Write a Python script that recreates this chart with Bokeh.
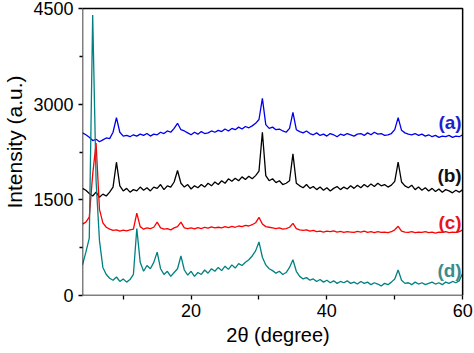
import numpy as np
from bokeh.plotting import figure
from bokeh.models import Range1d, FixedTicker, Label, BoxAnnotation
from bokeh.embed import file_html
from bokeh.resources import INLINE

# 2-theta sampling grid (degrees)
two_theta = np.arange(4.0, 60.01, 0.5)

# (a) blue
series_a = [
    2550, 2520, 2480, 2430, 2450, 2410, 2440, 2470, 2460, 2560,
    2790, 2560, 2500, 2510, 2490, 2520, 2500, 2530, 2510, 2540,
    2500, 2530, 2520, 2560, 2540, 2580, 2560, 2620, 2700, 2600,
    2580, 2550, 2520, 2560, 2530, 2570, 2540, 2550, 2580, 2560,
    2590, 2570, 2610, 2580, 2620, 2600, 2640, 2610, 2650, 2630,
    2660, 2700, 2760, 3090, 2680, 2620, 2640, 2600, 2610, 2580,
    2560, 2620, 2870, 2600, 2570, 2550, 2580, 2540, 2520, 2550,
    2510, 2530, 2500, 2540, 2520, 2490, 2530, 2510, 2540, 2520,
    2500, 2530, 2540, 2510, 2550, 2520, 2560, 2530, 2540, 2510,
    2520, 2540, 2600, 2790, 2590, 2550, 2530, 2520, 2540, 2510,
    2530, 2500, 2520, 2490, 2510, 2480, 2500, 2490, 2510, 2480,
    2500, 2490, 2520,
]

# (b) black
series_b = [
    1680, 1650, 1600, 1560, 1620, 1540, 1590, 1560, 1620, 1700,
    2090, 1720, 1640, 1680, 1620, 1660, 1640, 1700, 1650, 1690,
    1640, 1700, 1680, 1740, 1660, 1720, 1700, 1780, 1960, 1760,
    1700, 1740, 1670, 1720, 1690, 1740, 1700, 1760, 1720, 1780,
    1740, 1800, 1760, 1830, 1790, 1840, 1800, 1860, 1820, 1870,
    1830, 1880, 1950, 2560, 1880, 1800, 1830, 1770, 1800, 1740,
    1760, 1800, 2220, 1760, 1720, 1690, 1740, 1680, 1710, 1660,
    1700, 1650, 1690, 1640, 1680, 1710, 1660, 1700, 1670, 1720,
    1680, 1730, 1690, 1740, 1700, 1750, 1710, 1760, 1720, 1740,
    1700, 1730, 1790, 2090, 1780, 1720, 1690, 1730, 1660, 1700,
    1650, 1690, 1640, 1680, 1630, 1670, 1620, 1660, 1640, 1610,
    1650, 1620, 1660,
]

# (c) red
series_c = [
    1120, 1150, 1230, 1900, 2390, 1350, 1140, 1070, 1040, 1020,
    1030, 1010, 1025, 1015, 1030, 1040, 1290, 1080, 1040, 1060,
    1050, 1070, 1150, 1060, 1040, 1050, 1030, 1060, 1080, 1150,
    1060, 1050, 1060, 1045, 1065, 1050, 1070, 1055, 1075, 1060,
    1070, 1060, 1080, 1065, 1085, 1070, 1090, 1080, 1100, 1090,
    1110, 1140, 1225, 1120, 1080, 1070, 1060, 1050, 1060, 1040,
    1050, 1070, 1130, 1050, 1030, 1020, 1030, 1010, 1020, 1000,
    1010, 995, 1010, 1000, 1015, 995, 1005, 990, 1000, 995,
    990, 1005, 995, 1010, 990, 1000, 985, 1000, 990, 995,
    985, 1000, 1030, 1085, 1010, 995, 990, 1000, 985, 995,
    990, 1000, 985, 995, 980, 995, 990, 1000, 985, 995,
    990, 1000, 1030,
]

# (d) teal
series_d = [
    480, 680, 900, 4400, 1800, 860, 440, 330, 270, 240,
    290, 220, 260, 210, 250, 330, 1050, 520, 380, 470,
    420, 520, 680, 420, 330, 380, 300, 360, 420, 620,
    400, 320, 380, 300, 360, 330, 400, 350, 420, 380,
    440, 390, 460, 410, 480, 430, 500, 470, 520, 560,
    620, 700, 840, 600, 480, 420, 390, 350, 380, 330,
    360, 440, 560, 380, 300, 260, 280, 240, 260, 220,
    250, 210, 240, 200, 230, 190, 220, 200, 230, 190,
    210, 180, 220, 190, 210, 170, 200, 180, 150, 190,
    170, 210, 260, 400, 240, 190, 200, 170, 210, 180,
    200, 170, 190, 210, 180, 200, 170, 210, 190, 220,
    200, 230, 350,
]

series_names = ["(a)", "(b)", "(c)", "(d)"]
x_ticks = [20, 40, 60]
x_minor = [10, 30, 50]
y_ticks = [0, 1500, 3000, 4500]
y_minor = [750, 2250, 3750]

FONT = "Liberation Sans"
X0, X1, Y0, Y1 = 4, 60, 0, 4500
# the frame is a little larger than the drawn box, so edge tick labels keep their place
X_VIEW_END, Y_VIEW_END = 61.6, 4814
SHIFT = 12  # canvas is drawn 12px taller and lifted by the same amount
Y_SPARE_TICK = 4750  # blank tick in the hidden strip, so 4500 is not the end label

p = figure(width=474, height=353 + SHIFT, output_backend="svg",
           toolbar_location=None,
           x_range=Range1d(X0, X_VIEW_END), y_range=Range1d(Y0, Y_VIEW_END),
           min_border_left=78, min_border_right=1, min_border_top=0,
           min_border_bottom=58)
p.styles = {"margin-top": f"-{SHIFT}px"}
p.grid.visible = False
p.outline_line_color = None
p.background_fill_color = "white"
p.border_fill_color = "white"

line_colors = ["#0000ee", "#000000", "#ff0000", "#008080"]
for ys, c in zip([series_a, series_b, series_c, series_d], line_colors):
    p.line(two_theta, ys, line_color=c, line_width=1.3)

# plot box
p.add_layout(BoxAnnotation(left=X0, right=X1, bottom=Y0, top=Y1,
                           fill_alpha=0, line_color="black", line_width=1.5,
                           line_alpha=1))

xa = p.xaxis[0]
xa.ticker = FixedTicker(ticks=x_ticks, minor_ticks=x_minor)
xa.axis_label = "2θ (degree)"
ya = p.yaxis[0]
ya.ticker = FixedTicker(ticks=y_ticks + [Y_SPARE_TICK], minor_ticks=y_minor)
ya.major_label_overrides = {Y_SPARE_TICK: ""}
ya.major_label_orientation = 0.0
ya.axis_label = "Intensity (a.u.)"

for ax in (xa, ya):
    ax.axis_line_color = None
    ax.major_tick_line_color = "black"
    ax.minor_tick_line_color = "black"
    ax.major_tick_line_width = 1.3
    ax.minor_tick_line_width = 1.3
    ax.major_tick_in = 0
    ax.minor_tick_in = 0
    ax.major_label_text_font = FONT
    ax.major_label_text_font_size = "18px"
    ax.major_label_text_color = "black"
    ax.axis_label_text_font = FONT
    ax.axis_label_text_font_style = "normal"
    ax.axis_label_text_color = "black"

xa.major_tick_out = 4
xa.minor_tick_out = 4
xa.major_label_standoff = 4
xa.axis_label_text_font_size = "20px"
xa.axis_label_standoff = 4

ya.major_tick_out = 4
ya.minor_tick_out = 3
ya.major_label_standoff = 5
ya.axis_label_text_font_size = "21px"
ya.axis_label_standoff = 4

label_colors = ["#1f1fd0", "#111111", "#e8141e", "#3c8c8c"]
label_y = [2712, 1881, 1145, 392]
for name, c, ly in zip(series_names, label_colors, label_y):
    p.add_layout(Label(x=X1, y=ly, x_offset=-1, text=name, text_align="right",
                       text_baseline="middle", text_color=c,
                       text_font=FONT, text_font_style="bold",
                       text_font_size="19px"))

open("out.html", "w").write(file_html(p, INLINE))
